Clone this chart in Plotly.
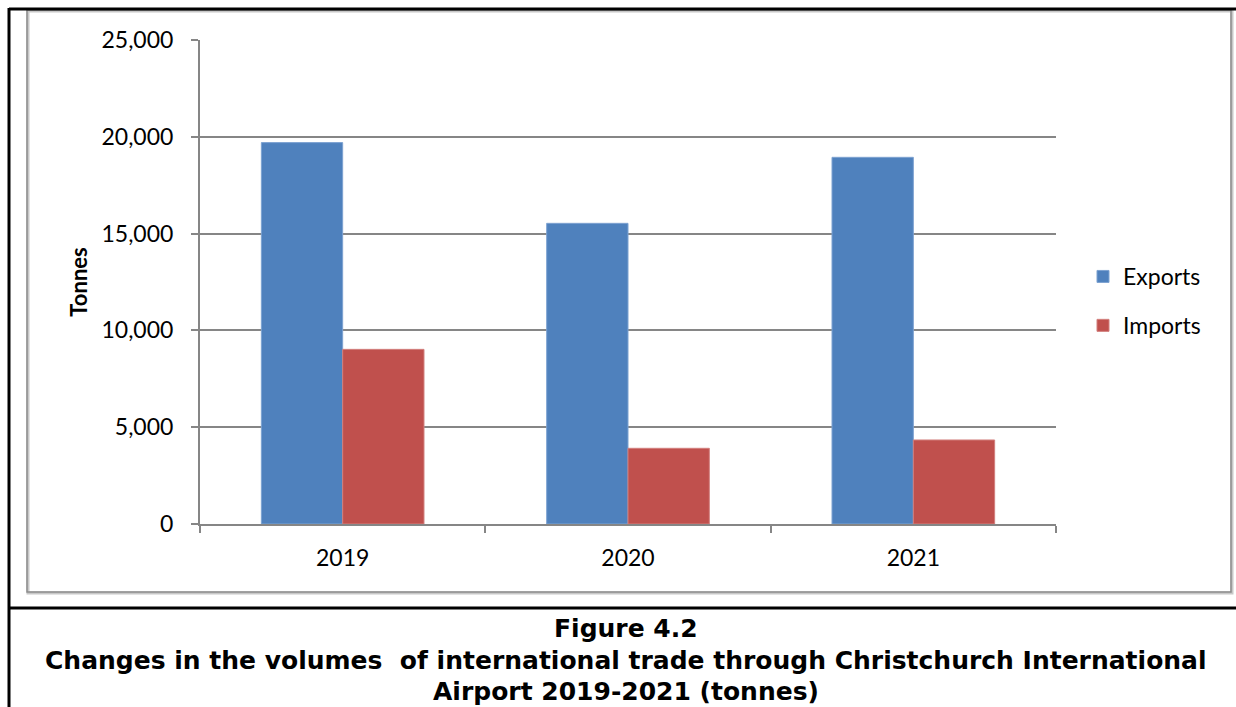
import plotly.graph_objects as go

years = ["2019", "2020", "2021"]
exports = [19700, 15530, 18940]
imports = [9020, 3910, 4340]
y_ticks = [0, 5000, 10000, 15000, 20000, 25000]
y_tick_labels = ["0", "5,000", "10,000", "15,000", "20,000", "25,000"]

W, H = 1236, 707


def px(x):
    return x / W


def py(y):
    return 1 - y / H


fig = go.Figure()
fig.add_trace(go.Bar(
    x=years, y=exports, name="Exports", legendgroup="a",
    marker=dict(color="#4F81BD", line=dict(color="#7DA2D1", width=1)),
))
fig.add_trace(go.Bar(
    x=years, y=imports, name="Imports", legendgroup="b",
    marker=dict(color="#C0504D", line=dict(color="#D27F7D", width=1)),
))

font_main = "Lato, 'Open Sans', sans-serif"

fig.update_layout(
    width=W, height=H, autosize=False,
    margin=dict(l=0, r=0, t=0, b=0, pad=0, autoexpand=False),
    paper_bgcolor="white", plot_bgcolor="white",
    barmode="group", bargap=0.43, bargroupgap=0,
    font=dict(family=font_main, size=23, color="black"),
    showlegend=True,
    legend=dict(
        x=px(1083), y=py(255), xanchor="left", yanchor="top",
        bgcolor="rgba(0,0,0,0)", font=dict(size=23),
        tracegroupgap=16, traceorder="grouped",
    ),
    xaxis=dict(
        domain=[px(200), px(1056)], automargin=False,
        showline=True, linecolor="#868686", linewidth=2,
        ticks="outside", ticklen=7, tickcolor="#868686", tickwidth=2,
        tickson="boundaries", showgrid=False,
        tickfont=dict(size=23),
        ticklabelstandoff=12,
    ),
    yaxis=dict(
        domain=[py(524), py(40)], automargin=False,
        range=[0, 25000], tickvals=y_ticks, ticktext=y_tick_labels,
        showline=True, linecolor="#868686", linewidth=2,
        ticks="outside", ticklen=7, tickcolor="#868686", tickwidth=2,
        showgrid=True, gridcolor="#868686", gridwidth=2,
        zeroline=False,
        tickfont=dict(size=23),
        ticklabelstandoff=13,
        title=dict(text="<b>Tonnes</b>", font=dict(size=22), standoff=8),
    ),
)

shapes = [
    # chart frame (gray, with shadow)
    dict(type="rect", xref="paper", yref="paper",
         x0=px(28), x1=px(1232), y0=py(593), y1=py(11),
         line=dict(color="#C8C8C8", width=3)),
    dict(type="rect", xref="paper", yref="paper",
         x0=px(27), x1=px(1231), y0=py(592), y1=py(10),
         line=dict(color="#8C8C8C", width=1.5)),
    # black page/table borders
    dict(type="line", xref="paper", yref="paper",
         x0=px(9), x1=px(1236), y0=py(9), y1=py(9),
         line=dict(color="black", width=3)),
    dict(type="line", xref="paper", yref="paper",
         x0=px(9), x1=px(9), y0=py(8), y1=py(707),
         line=dict(color="black", width=3)),
    dict(type="line", xref="paper", yref="paper",
         x0=px(9), x1=px(1236), y0=py(608), y1=py(608),
         line=dict(color="black", width=3)),
]
fig.update_layout(shapes=shapes)

cap_font = dict(family="'DejaVu Sans', Verdana, sans-serif", size=25, color="black")
captions = [
    ("<b>Figure 4.2</b>", 628),
    ("<b>Changes in the volumes  of international trade through Christchurch International</b>", 660),
    ("<b>Airport 2019-2021 (tonnes)</b>", 691),
]
for text, yy in captions:
    fig.add_annotation(
        text=text, xref="paper", yref="paper", x=px(626), y=py(yy),
        xanchor="center", yanchor="middle", showarrow=False, font=cap_font,
    )

fig.write_html(
    "out.html",
    config={"displayModeBar": False},
    post_script=(
        "document.body.style.margin='0';"
        "document.body.style.overflow='hidden';"
        "document.documentElement.style.overflow='hidden';"
    ),
)
